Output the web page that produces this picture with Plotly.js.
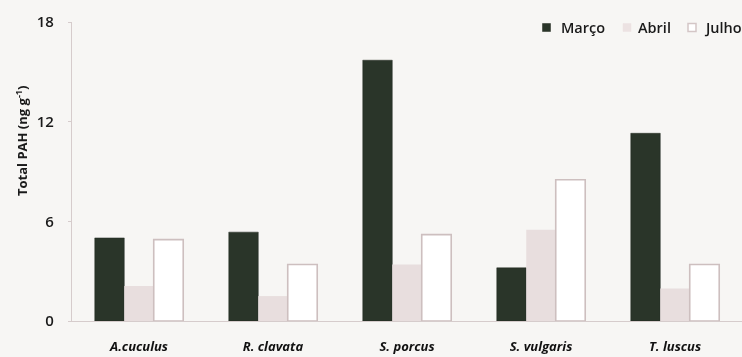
<!DOCTYPE html>
<html>
<head>
<meta charset="utf-8">
<script src="https://cdn.plot.ly/plotly-3.0.1.min.js"></script>
<style>
  html, body { margin: 0; padding: 0; background: #f7f6f4; }
  #chart { width: 742px; height: 357px; filter: blur(0.4px); }
</style>
</head>
<body>
<div id="chart"></div>
<script>
// Total PAH per species and sampling month (ng g-1)
const species = ["A.cuculus", "R. clavata", "S. porcus", "S. vulgaris", "T. luscus"];
const months  = ["Março", "Abril", "Julho"];
const marco   = [5.0, 5.35, 15.7, 3.2, 11.3];
const abril   = [2.1, 1.5, 3.4, 5.5, 1.95];
const julho   = [4.9, 3.4, 5.2, 8.5, 3.4];
const yTicks  = [0, 6, 12, 18];

const fontFamily = "'Open Sans', 'Noto Sans', 'Liberation Sans', sans-serif";

// bar styling per month
const styles = [
  { fill: "#2a3529", line: "#222b21", lw: 0.5 },
  { fill: "#e8dede", line: "#e8dede", lw: 0 },
  { fill: "#ffffff", line: "#cdbfbf", lw: 1.6 }
];
const values = [marco, abril, julho];

const traces = months.map((m, i) => ({
  type: "bar",
  name: m,
  x: species,
  y: values[i],
  marker: { color: styles[i].fill, line: { color: styles[i].line, width: styles[i].lw } },
  hoverinfo: "skip"
}));

// plot area in pixels, used to place the legend keys in paper units
const W = 742, H = 357, M = { l: 72, r: 0, t: 22, b: 36 };
const pw = W - M.l - M.r, ph = H - M.t - M.b;
const px = x => (x - M.l) / pw;
const py = y => (H - M.b - y) / ph;

// legend: small square key followed by the month name
const keyLeft  = [542.5, 623, 688];
const textLeft = [559, 636, 702];
const keySize = 8, legendY = 27.5;

const shapes = months.map((m, i) => ({
  type: "rect", xref: "paper", yref: "paper",
  x0: px(keyLeft[i]), x1: px(keyLeft[i] + keySize),
  y0: py(legendY + keySize / 2), y1: py(legendY - keySize / 2),
  fillcolor: i === 1 ? "#ece2e2" : styles[i].fill,
  line: { color: i === 0 ? styles[0].line : (i === 2 ? "#d4c6c6" : "#ece2e2"), width: i === 2 ? 1.5 : 0.5 }
}));

const legendText = months.map((m, i) => ({
  xref: "paper", yref: "paper",
  x: px(textLeft[i]), y: py(legendY),
  xanchor: "left", yanchor: "middle",
  showarrow: false,
  text: m,
  font: { size: 14.5, color: "#1a1a1a", weight: 600 }
}));

const layout = {
  width: W,
  height: H,
  margin: Object.assign({ autoexpand: false }, M),
  paper_bgcolor: "#f7f6f4",
  plot_bgcolor: "#f7f6f4",
  barmode: "group",
  bargap: 0.34,
  bargroupgap: 0,
  font: { family: fontFamily, color: "#1a1a1a", size: 14 },
  showlegend: false,
  xaxis: {
    type: "category",
    tickmode: "array",
    tickvals: species,
    ticktext: species.map(s => "<b><i>" + s + "</i></b>"),
    tickfont: { size: 13, color: "#111" },
    showline: true,
    linecolor: "#d6cccc",
    linewidth: 1.2,
    ticks: "",
    showgrid: false,
    zeroline: false,
    ticklabelstandoff: 13,
    fixedrange: true
  },
  yaxis: {
    range: [0, 18],
    tickmode: "array",
    tickvals: yTicks,
    ticktext: yTicks.map(String),
    tickfont: { size: 15, color: "#1a1a1a", weight: 600 },
    showline: true,
    linecolor: "#d6cccc",
    linewidth: 1.2,
    ticks: "outside",
    ticklen: 3,
    tickcolor: "#d6cccc",
    showgrid: false,
    zeroline: false,
    ticklabelstandoff: 11,
    fixedrange: true
  },
  shapes: shapes,
  annotations: legendText.concat([{
    xref: "paper", yref: "paper",
    x: px(21), y: py(141),
    xanchor: "center", yanchor: "middle",
    textangle: -90,
    showarrow: false,
    text: "<b>Total PAH (ng g<sup>-1</sup>)</b>",
    font: { size: 13, color: "#1a1a1a" }
  }])
};

Plotly.newPlot("chart", traces, layout, { displayModeBar: false, staticPlot: true });
</script>
</body>
</html>
